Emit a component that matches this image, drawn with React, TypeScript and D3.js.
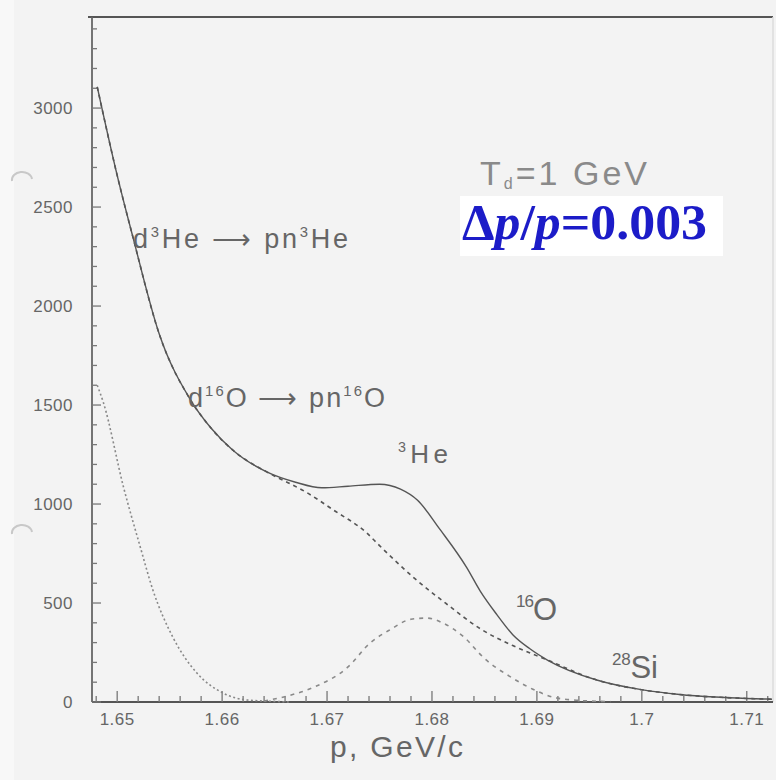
import React, { useEffect, useRef } from 'react'
import * as d3 from 'd3'

// curves (p in GeV/c, counts)
const totalP = [1.6481, 1.65, 1.6515, 1.654, 1.657, 1.659, 1.661, 1.6643, 1.667, 1.6695, 1.672, 1.675, 1.677, 1.6786, 1.6808, 1.6833, 1.6846, 1.6862, 1.6877, 1.6893, 1.691, 1.6957, 1.7001, 1.7036, 1.707, 1.71, 1.7124]
const totalV = [3107, 2660, 2348, 1860, 1525, 1380, 1273, 1161, 1110, 1082, 1090, 1100, 1075, 1020, 869, 680, 560, 440, 340, 270, 212, 111, 61, 38, 25, 18, 14]

const contP = [1.6481, 1.65, 1.6515, 1.654, 1.657, 1.659, 1.661, 1.6643, 1.6652, 1.668, 1.6706, 1.6738, 1.675, 1.6782, 1.6814, 1.6846, 1.6877, 1.691, 1.6957, 1.7001, 1.7036, 1.707, 1.71, 1.7124]
const contV = [3107, 2660, 2348, 1860, 1525, 1380, 1273, 1161, 1136, 1060, 970, 853, 790, 631, 495, 370, 285, 212, 111, 61, 38, 25, 18, 14]

const steepP = [1.6481, 1.6487, 1.6506, 1.6522, 1.6534, 1.6553, 1.6576, 1.6601, 1.6624, 1.665, 1.6665]
const steepV = [1600, 1510, 1086, 783, 566, 328, 146, 45, 10, 3, 0]

const peakP = [1.664, 1.6662, 1.6688, 1.672, 1.6741, 1.676, 1.678, 1.6795, 1.681, 1.683, 1.685, 1.6877, 1.69, 1.6915, 1.694, 1.697]
const peakV = [5, 30, 76, 177, 298, 365, 418, 424, 400, 330, 220, 120, 55, 25, 8, 2]

const xTicks = [1.65, 1.66, 1.67, 1.68, 1.69, 1.7, 1.71]
const xTickLabels = ['1.65', '1.66', '1.67', '1.68', '1.69', '1.7', '1.71']
const yTicks = [0, 500, 1000, 1500, 2000, 2500, 3000]

const W = 776, H = 780
const left = 92, right = 773, top = 17, bottom = 702
const sans = 'Liberation Sans, Arial, sans-serif'

export default function App() {
  const ref = useRef<SVGSVGElement>(null)
  useEffect(() => {
    const svg = d3.select(ref.current)
    svg.selectAll('*').remove()
    const x = d3.scaleLinear().domain([1.6476, 1.7125]).range([left, right])
    const y = d3.scaleLinear().domain([0, 3460]).range([bottom, top])

    svg.append('rect').attr('width', W).attr('height', H).attr('fill', '#f3f3f3')
    svg.append('rect').attr('x', 0).attr('width', 14).attr('height', H).attr('fill', '#f8f8f8')
    // punch hole shadows from the scan
    ;[175, 528].forEach(cy => {
      svg.append('path').attr('d', `M12,${cy + 6} A10,8 0 0 1 32,${cy + 4}`)
        .attr('fill', 'none').attr('stroke', '#c8c8c8').attr('stroke-width', 2)
    })

    // frame
    svg.append('line').attr('x1', left - 4).attr('x2', right).attr('y1', top).attr('y2', top)
      .attr('stroke', '#555').attr('stroke-width', 2)
    svg.append('line').attr('x1', right).attr('x2', right).attr('y1', top).attr('y2', bottom)
      .attr('stroke', '#ddd').attr('stroke-width', 1.5)
    svg.append('line').attr('x1', left).attr('x2', left).attr('y1', top).attr('y2', bottom)
      .attr('stroke', '#666').attr('stroke-width', 1.8)
    svg.append('line').attr('x1', left).attr('x2', right).attr('y1', bottom).attr('y2', bottom)
      .attr('stroke', '#555').attr('stroke-width', 2)

    // ticks
    const g = svg.append('g').attr('stroke', '#777').attr('stroke-width', 1.3)
    d3.range(0, 3401, 100).forEach(v => {
      const major = v % 500 === 0
      g.append('line').attr('x1', left).attr('x2', left + (major ? 9 : 5))
        .attr('y1', y(v)).attr('y2', y(v))
    })
    d3.range(1.648, 1.7125, 0.002).forEach(p => {
      const major = Math.abs(Math.round(p * 100) - p * 100) < 1e-6
      g.append('line').attr('x1', x(p)).attr('x2', x(p))
        .attr('y1', bottom).attr('y2', bottom - (major ? 11 : 6))
    })

    svg.selectAll('.ylab').data(yTicks).enter().append('text')
      .attr('x', 73).attr('y', d => y(d) + 6).attr('text-anchor', 'end')
      .attr('font-family', sans).attr('font-size', 17).attr('letter-spacing', 0.5).attr('fill', '#666')
      .text(d => d)
    svg.selectAll('.xlab').data(xTicks).enter().append('text')
      .attr('x', d => x(d)).attr('y', 725).attr('text-anchor', 'middle')
      .attr('font-family', sans).attr('font-size', 17).attr('letter-spacing', 0.5).attr('fill', '#666')
      .text((d, i) => xTickLabels[i])

    svg.append('text').attr('x', 330).attr('y', 757).attr('font-family', sans)
      .attr('font-size', 30).attr('fill', '#666')
      .attr('textLength', 133).attr('lengthAdjust', 'spacing').text('p, GeV/c')

    // curves
    const draw = (ps: number[], vs: number[], color: string, width: number, dash: string | null) => {
      const l = d3.line<number>().x((d, i) => x(ps[i])).y(d => y(d)).curve(d3.curveMonotoneX)
      svg.append('path').attr('d', l(vs)).attr('fill', 'none').attr('stroke', color)
        .attr('stroke-width', width).attr('stroke-dasharray', dash)
    }
    draw(steepP, steepV, '#888', 1.6, '2,2.5')
    draw(peakP, peakV, '#8a8a8a', 1.6, '4,5')
    draw(contP, contV, '#555', 1.6, '4,4')
    draw(totalP, totalV, '#555', 1.4, null)

    // labels with superscripts
    const label = (tx: number, ty: number, size: number, len: number, parts: [string, boolean][], fill = '#666') => {
      const t = svg.append('text').attr('x', tx).attr('y', ty).attr('font-family', sans)
        .attr('font-size', size).attr('fill', fill)
      let raised = false
      parts.forEach(([s, isSup]) => {
        const up = size * 0.42
        const dy = isSup ? (raised ? 0 : -up) : (raised ? up : 0)
        t.append('tspan').attr('font-size', isSup ? size * 0.55 : size).attr('dy', dy).text(s)
        raised = isSup
      })
      t.attr('textLength', len).attr('lengthAdjust', 'spacing')
    }
    label(133, 248, 27, 215, [['d', false], ['3', true], ['He \u27F6 pn', false], ['3', true], ['He', false]])
    label(188, 407, 27, 197, [['d', false], ['16', true], ['O \u27F6 pn', false], ['16', true], ['O', false]])
    label(398, 463, 26, 50, [['3', true], ['He', false]])
    label(516, 620, 31, 41, [['16', true], ['O', false]])
    label(612, 678, 31, 46, [['28', true], ['Si', false]])

    const td = svg.append('text').attr('x', 480).attr('y', 185).attr('font-family', sans)
      .attr('font-size', 34).attr('fill', '#8a8a8a')
    td.append('tspan').text('T')
    td.append('tspan').attr('font-size', 16).attr('dy', 4).text('d')
    td.append('tspan').attr('dy', -4).text('=1 GeV')
    td.attr('textLength', 167).attr('lengthAdjust', 'spacing')

    svg.append('rect').attr('x', 460).attr('y', 196).attr('width', 263).attr('height', 60).attr('fill', '#fff')
    const dp = svg.append('text').attr('x', 462).attr('y', 239)
      .attr('font-family', 'Liberation Serif, Times New Roman, serif').attr('font-weight', 'bold')
      .attr('font-size', 50).attr('fill', '#1c1cc8')
    dp.append('tspan').text('\u0394')
    dp.append('tspan').attr('font-style', 'italic').text('p')
    dp.append('tspan').text('/')
    dp.append('tspan').attr('font-style', 'italic').text('p')
    dp.append('tspan').text('=0.003')
    dp.attr('textLength', 245).attr('lengthAdjust', 'spacingAndGlyphs')
  }, [])
  return (
    <svg ref={ref} width={W} height={H} style={{ position: 'absolute', left: 0, top: 0, display: 'block' }}></svg>
  )
}
